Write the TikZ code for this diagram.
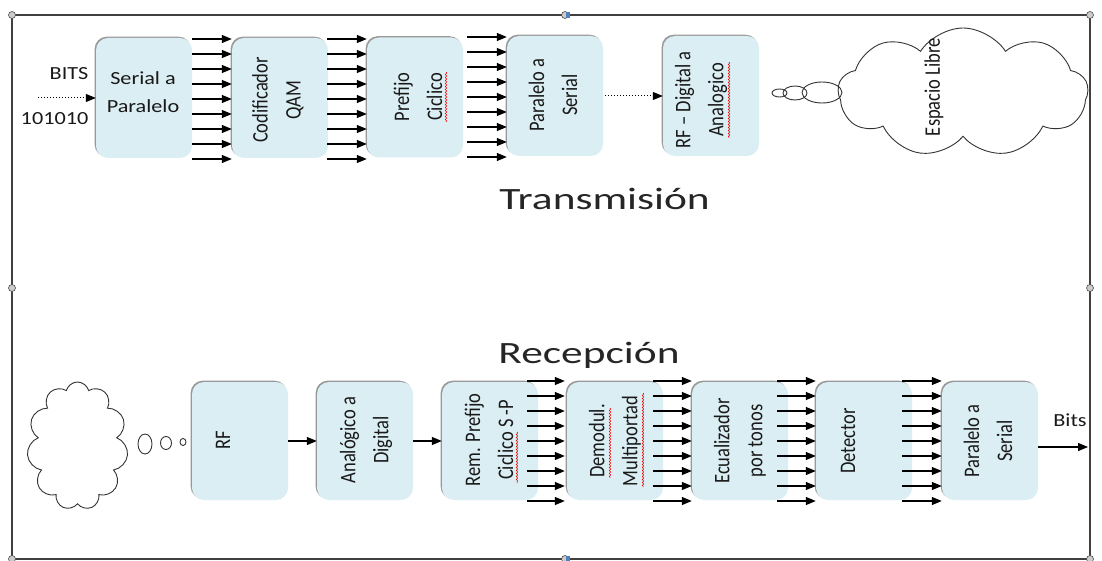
\documentclass[tikz,border=0pt]{standalone}
\usepackage{fontspec}
\setmainfont{Carlito}
\usetikzlibrary{arrows.meta,shapes.symbols,shadows,decorations.pathmorphing}
\definecolor{boxblue}{HTML}{DBEEF3}
\definecolor{handleblue}{HTML}{4F81BD}
\begin{document}
\begin{tikzpicture}[x=1pt,y=-1pt,
  blk/.style={rectangle, rounded corners=12pt, fill=boxblue, minimum width=96pt,
    minimum height=120pt, inner sep=0pt,
    general shadow={fill=black!40, shadow xshift=-1.3pt, shadow yshift=1.3pt}},
  lbl/.style={font=\fontsize{18.5}{27.5}\selectfont, align=center, inner sep=0pt, text=black!90, xscale=1.2},
  rlbl/.style={lbl, rotate=90},
  ttl/.style={font=\fontsize{31}{37}\selectfont, inner sep=0pt, text=black!85, xscale=1.4, anchor=base},
  arr/.style={-{Triangle[length=10pt,width=8pt]}, line width=1.2pt},
  darr/.style={-{Triangle[length=10pt,width=8pt]}, line width=1pt, dotted},
  cloudst/.style={cloud, draw=black!80, line width=0.9pt, inner sep=0pt},
  bub/.style={draw=black!80, line width=0.9pt},
  wavy/.style={draw=red, line width=0.5pt, decorate, decoration={snake, amplitude=0.8pt, segment length=3pt}},
  handle/.style={draw=black!70, fill=black!20, line width=0.6pt}
]
\useasboundingbox (0,0) rectangle (1102,561);
% frame
\draw[line width=1.3pt, black!75] (12,15) rectangle (1090,559);
\foreach \p in {(12,15),(1090,15),(12,288),(1090,288),(12,559),(1090,559),(565,15),(565,559)}
  \draw[handle] \p circle[radius=3.5pt];
\fill[handleblue] (566,12) rectangle (570,18);
\fill[handleblue] (566,556) rectangle (570,561);

% row heights for the parallel arrows
\foreach \k in {0,...,8} {
  \coordinate (ta\k) at (0,{39+15*\k});
  \coordinate (tb\k) at (0,{37+15*\k});
  \coordinate (ra\k) at (0,{381+15*\k});
}

% ---------- Transmision ----------
\node[blk] (b1) at (144,98) {};
\node[blk] (b2) at (280,98) {};
\node[blk] (b3) at (415,97.5) {};
\node[blk] (b4) at (555,96) {};
\node[blk] (b5) at (711,96) {};

\node[lbl] (t1) at (143,92) {Serial a\\Paralelo};
\node[rlbl] (t2) at (278,100) {Codificador\\QAM};
\node[rlbl] (t3) at (418,97) {Prefijo\\Ciclico};
\node[rlbl] (t4) at (553,95) {Paralelo a\\Serial};
\node[rlbl] (t5) at (701,100) {RF -- Digital a\\Analogico};

\node[lbl] (bits) at (69,74) {BITS};
\node[lbl] (num) at (54.5,119) {101010};
\coordinate (bitsin) at (38,98);
\draw[darr] (bitsin) -- (b1.west);

\foreach \k in {0,...,8} {
  \draw[arr] (b1.east |- ta\k) -- (b2.west |- ta\k);
  \draw[arr] ([xshift=-1pt]b2.east |- ta\k) -- (b3.west |- ta\k);
  \draw[arr] ([xshift=4pt]b3.east |- tb\k) -- (b4.west |- tb\k);
}
\draw[darr] ([xshift=2pt]b4.east) -- (b5.west);

% cloud top right
\node[cloudst, cloud puffs=9, cloud puff arc=115, minimum width=250pt, minimum height=129pt, aspect=1.9] (c1) at (963,92.5) {};
\node[rlbl] (esp) at (934,87) {Espacio Libre};
\draw[bub] (822,92.5) ellipse [x radius=20pt, y radius=10.5pt];
\draw[bub] (795,93) ellipse [x radius=12pt, y radius=7pt];
\draw[bub] (779.5,93) ellipse [x radius=7.5pt, y radius=4pt];

\node[ttl] (tx) at (604.5,210) {Transmisión};

% ---------- Recepcion ----------
\node[ttl] (rx) at (589,363) {Recepción};

\node[blk, minimum height=118pt] (r1) at (240,441) {};
\node[blk, minimum height=118pt] (r2) at (365,441) {};
\node[blk, minimum height=118pt] (r3) at (490,441) {};
\node[blk, minimum height=118pt] (r4) at (615,441) {};
\node[blk, minimum height=118pt] (r5) at (740,441) {};
\node[blk, minimum height=118pt] (r6) at (864,441) {};
\node[blk, minimum height=118pt] (r7) at (990,441) {};

\node[rlbl] (s1) at (223,440) {RF};
\node[rlbl] (s2) at (366,440) {Analógico a\\Digital};
\node[rlbl] (s3) at (489,440) {Rem. Prefijo\\Ciclico S -P};
\node[rlbl] (s4) at (615,441) {Demodul.\\Multiportad};
\node[rlbl] (s5) at (740,441) {Ecualizador\\por tonos};
\node[rlbl] (s6) at (848,441) {Detector};
\node[rlbl] (s7) at (988,441) {Paralelo a\\Serial};

\draw[arr] (r1.east) -- (r2.west);
\draw[arr] (r2.east) -- (r3.west);
\foreach \k in {0,...,8} {
  \draw[arr] ([xshift=-11pt]r3.east |- ra\k) -- ([xshift=-2pt]r4.west |- ra\k);
  \draw[arr] ([xshift=-10pt]r4.east |- ra\k) -- (r5.west |- ra\k);
  \draw[arr] ([xshift=-11pt]r5.east |- ra\k) -- (r6.west |- ra\k);
  \draw[arr] ([xshift=-10pt]r6.east |- ra\k) -- (r7.west |- ra\k);
}
\coordinate (bitsout) at (1088,447);
\draw[arr] (r7.east |- bitsout) -- (bitsout);
\node[lbl] (bitsl) at (1070,420) {Bits};

% cloud bottom left
\node[cloudst, cloud puffs=11, minimum width=101pt, minimum height=128pt, aspect=0.8] (c2) at (77.5,446) {};
\draw[bub] (145,444) ellipse [x radius=7pt, y radius=10pt];
\draw[bub] (166,443) ellipse [x radius=5.5pt, y radius=6.5pt];
\draw[bub] (183,442) ellipse [x radius=3pt, y radius=3.5pt];

% spell-check marks
\draw[wavy] (446,72) -- (446,122);
\draw[wavy] (729,62) -- (729,138);
\draw[wavy] (517,432) -- (517,483);
\draw[wavy] (610,408) -- (610,478);
\draw[wavy] (643,393) -- (643,487);
\end{tikzpicture}
\end{document}
